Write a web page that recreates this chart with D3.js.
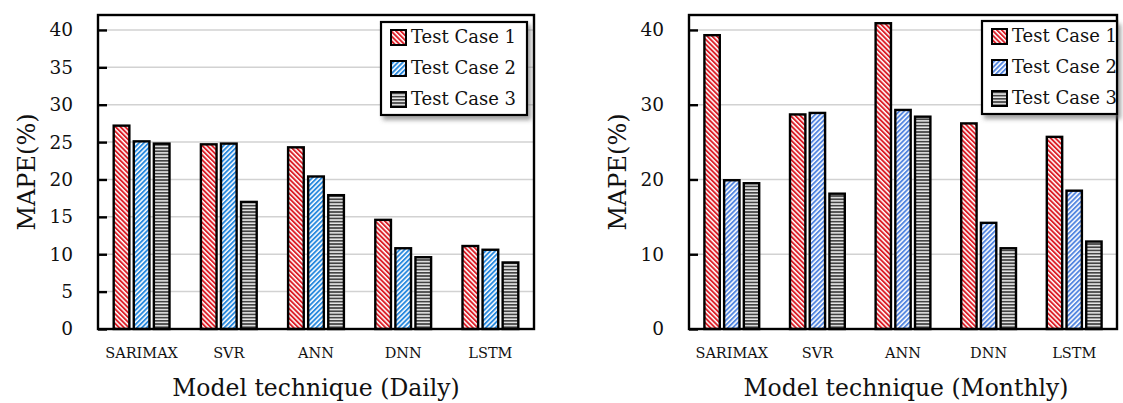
<!DOCTYPE html>
<html>
<head>
<meta charset="utf-8">
<script src="https://cdn.jsdelivr.net/npm/d3@7"></script>
<style>
  html, body { margin: 0; padding: 0; background: #fff; }
  svg { display: block; }
  text { font-family: "DejaVu Serif", "Liberation Serif", serif; fill: #111; }
</style>
</head>
<body>
<svg id="chart" width="1123" height="403"></svg>
<script>
// Model techniques on the x axis
const categories = ["SARIMAX", "SVR", "ANN", "DNN", "LSTM"];
const seriesNames = ["Test Case 1", "Test Case 2", "Test Case 3"];

// MAPE (%) per technique, daily forecasts
const dailyCase1 = [27.2, 24.7, 24.3, 14.6, 11.1];
const dailyCase2 = [25.1, 24.8, 20.4, 10.8, 10.6];
const dailyCase3 = [24.8, 17.0, 17.9, 9.6, 8.9];

// MAPE (%) per technique, monthly forecasts
const monthlyCase1 = [39.3, 28.7, 40.9, 27.5, 25.7];
const monthlyCase2 = [19.9, 28.9, 29.3, 14.2, 18.5];
const monthlyCase3 = [19.5, 18.1, 28.4, 10.8, 11.7];

const dailyTicks = [0, 5, 10, 15, 20, 25, 30, 35, 40];
const monthlyTicks = [0, 10, 20, 30, 40];

const svg = d3.select("#chart");
const defs = svg.append("defs");

// Hatch fills: red back-diagonal, blue forward-diagonal, grey horizontal
function diagPattern(id, color, angle) {
  const p = defs.append("pattern")
    .attr("id", id).attr("patternUnits", "userSpaceOnUse")
    .attr("width", 3.4).attr("height", 10)
    .attr("patternTransform", `rotate(${angle})`);
  p.append("rect").attr("width", 3.4).attr("height", 10).attr("fill", "#fff");
  p.append("rect").attr("width", 1.9).attr("height", 10).attr("fill", color);
}
function horizPattern(id) {
  const p = defs.append("pattern")
    .attr("id", id).attr("patternUnits", "userSpaceOnUse")
    .attr("width", 10).attr("height", 3.2);
  p.append("rect").attr("width", 10).attr("height", 3.2).attr("fill", "#e8e8e8");
  p.append("rect").attr("width", 10).attr("height", 1.7).attr("fill", "#444");
}
diagPattern("hatch-red", "#dc1f28", -45);
diagPattern("hatch-blue-d", "#2a8ade", 45);
diagPattern("hatch-blue-m", "#5587e0", 45);
horizPattern("hatch-grey");

const shadow = defs.append("filter").attr("id", "legend-shadow")
  .attr("x", "-10%").attr("y", "-10%").attr("width", "130%").attr("height", "130%");
shadow.append("feDropShadow").attr("dx", 3).attr("dy", 4)
  .attr("stdDeviation", 2.2).attr("flood-color", "#666").attr("flood-opacity", 0.6);

function drawPanel(cfg) {
  const { left, right, top, bottom, values, fills, ticks, title, titleX,
          yTitleX, legend } = cfg;
  const g = svg.append("g");

  const y = d3.scaleLinear().domain([0, 42]).range([bottom, top]);
  const x0 = d3.scaleBand().domain(categories).range([left, right]).padding(0);
  const bw = x0.bandwidth();
  const x1 = d3.scaleBand().domain(seriesNames)
    .range([bw * 0.18, bw * 0.82]).paddingInner(0.22);

  // grid lines
  g.append("g").selectAll("line").data(ticks.filter(t => t > 0)).join("line")
    .attr("x1", left).attr("x2", right)
    .attr("y1", d => y(d)).attr("y2", d => y(d))
    .attr("stroke", "#d2d2d2").attr("stroke-width", 1.5);

  // bars
  const rows = categories.map((c, i) => ({
    cat: c, vals: seriesNames.map((s, j) => ({ s, j, v: values[j][i] }))
  }));
  g.append("g").selectAll("g").data(rows).join("g")
    .attr("transform", d => `translate(${x0(d.cat)},0)`)
    .selectAll("rect").data(d => d.vals).join("rect")
    .attr("x", d => x1(d.s))
    .attr("width", x1.bandwidth())
    .attr("y", d => y(d.v))
    .attr("height", d => y(0) - y(d.v))
    .attr("fill", d => `url(#${fills[d.j]})`)
    .attr("stroke", "#000").attr("stroke-width", 2.4);

  // y axis: inward ticks, labels to the left
  const yAxis = d3.axisLeft(y).tickValues(ticks).tickSize(-9).tickPadding(25)
    .tickFormat(d3.format("d"));
  const ay = g.append("g").attr("transform", `translate(${left},0)`).call(yAxis);
  ay.select(".domain").remove();
  ay.selectAll(".tick line").attr("stroke", "#000").attr("stroke-width", 2.4);
  ay.selectAll(".tick text").attr("font-size", 18.5)
    .attr("font-family", "DejaVu Serif").attr("fill", "#111");

  // x axis category labels
  const xAxis = d3.axisBottom(x0).tickSize(0).tickPadding(0);
  const ax = g.append("g").attr("transform", `translate(0,${bottom})`).call(xAxis);
  ax.select(".domain").remove();
  ax.selectAll(".tick text").attr("font-size", 14.5)
    .attr("font-family", "DejaVu Serif").attr("fill", "#111")
    .attr("dy", null).attr("y", 29);

  // frame
  g.append("rect").attr("x", left).attr("y", top)
    .attr("width", right - left).attr("height", bottom - top)
    .attr("fill", "none").attr("stroke", "#000").attr("stroke-width", 2.4);

  // axis titles
  g.append("text").attr("x", titleX).attr("y", 396)
    .attr("text-anchor", "middle").attr("font-size", 23.5).text(title);
  g.append("text")
    .attr("transform", `translate(${yTitleX},${(top + bottom) / 2}) rotate(-90)`)
    .attr("text-anchor", "middle").attr("dy", "0.35em")
    .attr("font-size", 24).text("MAPE(%)");

  // legend
  const lg = g.append("g");
  lg.append("rect").attr("x", legend.x).attr("y", legend.y)
    .attr("width", legend.w).attr("height", legend.h)
    .attr("fill", "#fff").attr("stroke", "#000").attr("stroke-width", 2.2)
    .attr("filter", "url(#legend-shadow)");
  const items = lg.selectAll("g.item").data(seriesNames).join("g")
    .attr("class", "item")
    .attr("transform", (d, i) => `translate(${legend.x + 10},${legend.y + 15 + i * 31})`);
  items.append("rect").attr("x", 0).attr("y", -7).attr("width", 15).attr("height", 15)
    .attr("fill", (d, i) => `url(#${fills[i]})`)
    .attr("stroke", "#000").attr("stroke-width", 2);
  items.append("text").attr("x", 20).attr("dy", "0.36em")
    .attr("font-size", 18).text(d => d);
}

drawPanel({
  left: 98, right: 534, top: 15, bottom: 329,
  values: [dailyCase1, dailyCase2, dailyCase3],
  fills: ["hatch-red", "hatch-blue-d", "hatch-grey"],
  ticks: dailyTicks,
  title: "Model technique (Daily)", titleX: 316, yTitleX: 27,
  legend: { x: 381, y: 22, w: 146, h: 93 }
});

drawPanel({
  left: 689, right: 1117, top: 15, bottom: 329,
  values: [monthlyCase1, monthlyCase2, monthlyCase3],
  fills: ["hatch-red", "hatch-blue-m", "hatch-grey"],
  ticks: monthlyTicks,
  title: "Model technique (Monthly)", titleX: 906, yTitleX: 618,
  legend: { x: 982, y: 21, w: 135, h: 93 }
});
</script>
</body>
</html>
